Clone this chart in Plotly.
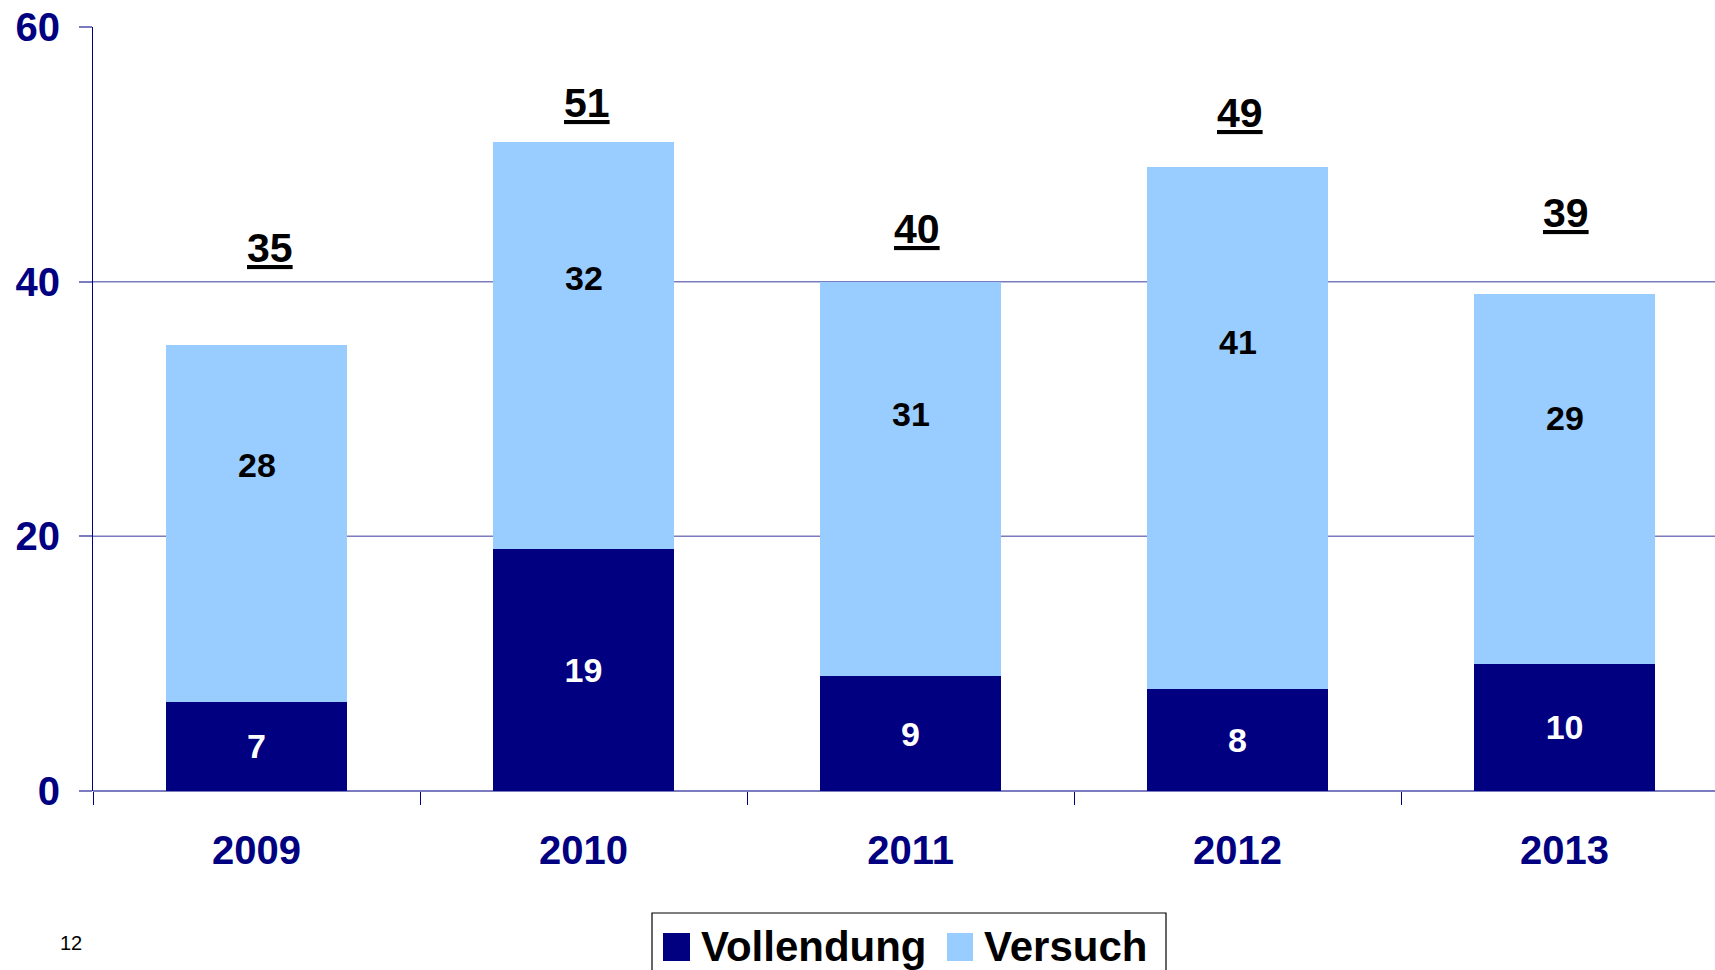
import plotly.graph_objects as go

years = ["2009", "2010", "2011", "2012", "2013"]
vollendung = [7, 19, 9, 8, 10]
versuch = [28, 32, 31, 41, 29]
totals = [a + b for a, b in zip(vollendung, versuch)]
y_ticks = [0, 20, 40, 60]

# label placement styles (pixels / fractions)
total_yshift = [97, 39, 53, 54, 81]
total_xshift = [13, 3, 6, 2, 1]
versuch_label_frac = 0.665

NAVY = "#000080"
LIGHT = "#99CCFF"
GRID = "#7B7BC0"
FONT = "Liberation Sans, Arial, sans-serif"

W, H = 1715, 970
L, R, T, B = 93, 0, 27, 179
PW, PH = W - L - R, H - T - B


def px(xpix):
    return (xpix - L) / PW


def py(ypix):
    return (H - B - ypix) / PH


fig = go.Figure()
fig.add_trace(go.Bar(
    x=years, y=vollendung, name="Vollendung", marker_color=NAVY,
    marker_line_width=0,
    text=[str(v) for v in vollendung], texttemplate="%{text}",
    textposition="inside", insidetextanchor="middle", constraintext="none",
    textfont=dict(family=FONT, size=34, color="white", weight="bold"),
    showlegend=False, hoverinfo="skip",
))
fig.add_trace(go.Bar(
    x=years, y=versuch, name="Versuch", marker_color=LIGHT,
    marker_line_width=0, showlegend=False, hoverinfo="skip",
))

annotations = []
for i, yr in enumerate(years):
    annotations.append(dict(
        x=i, y=vollendung[i] + versuch[i] * versuch_label_frac,
        text=str(versuch[i]), showarrow=False, xref="x", yref="y",
        font=dict(family=FONT, size=34, color="black", weight="bold"),
    ))
    annotations.append(dict(
        x=i, y=totals[i], yshift=total_yshift[i], xshift=total_xshift[i],
        text=str(totals[i]), showarrow=False, xref="x", yref="y",
        font=dict(family=FONT, size=41, color="black", weight="bold",
                  lineposition="under"),
    ))

# page number
annotations.append(dict(x=px(71), y=py(943), xref="paper", yref="paper",
                        xanchor="center", yanchor="middle",
                        text="12", showarrow=False,
                        font=dict(family=FONT, size=20, color="black")))
# custom legend text
annotations.append(dict(x=px(699), y=py(946), xref="paper", yref="paper",
                        xanchor="left", yanchor="middle", text="Vollendung",
                        showarrow=False,
                        font=dict(family=FONT, size=42, color="black", weight="bold")))
annotations.append(dict(x=px(982), y=py(946), xref="paper", yref="paper",
                        xanchor="left", yanchor="middle", text="Versuch",
                        showarrow=False,
                        font=dict(family=FONT, size=42, color="black", weight="bold")))

shapes = []
for gv in y_ticks[1:-1]:
    shapes.append(dict(type="line", xref="paper", yref="y", x0=0, x1=1,
                       y0=gv, y1=gv, line=dict(color=GRID, width=1.5),
                       layer="below"))
# legend box and swatches
shapes.append(dict(type="rect", xref="paper", yref="paper",
                   x0=px(652), x1=px(1166), y0=py(913), y1=py(990),
                   line=dict(color="black", width=1.2), fillcolor="white",
                   layer="below"))
shapes.append(dict(type="rect", xref="paper", yref="paper",
                   x0=px(663), x1=px(690), y0=py(933), y1=py(961),
                   line=dict(width=0), fillcolor=NAVY))
shapes.append(dict(type="rect", xref="paper", yref="paper",
                   x0=px(947), x1=px(973), y0=py(933), y1=py(961),
                   line=dict(width=0), fillcolor=LIGHT))

fig.update_layout(
    width=W, height=H,
    margin=dict(l=L, r=R, t=T, b=B, pad=0),
    paper_bgcolor="white", plot_bgcolor="white",
    barmode="stack", bargap=0.447,
    showlegend=False,
    annotations=annotations, shapes=shapes,
    xaxis=dict(
        type="category", range=[-0.5, 4.46],
        tickson="boundaries", ticks="outside", ticklen=13, tickcolor=NAVY,
        tickwidth=1, showgrid=False, showline=False, zeroline=False,
        tickfont=dict(family=FONT, size=40, color=NAVY, weight="bold"),
        ticklabelstandoff=32,
    ),
    yaxis=dict(
        range=[0, 60], tickvals=y_ticks, ticks="outside", ticklen=13,
        tickcolor=GRID, tickwidth=1.5, showgrid=False,
        showline=True, linecolor=NAVY, linewidth=1,
        zeroline=True, zerolinecolor=GRID, zerolinewidth=1.5,
        tickfont=dict(family=FONT, size=40, color=NAVY, weight="bold"),
        ticklabelstandoff=11,
    ),
)

fig.write_html(
    "out.html",
    config={"displayModeBar": False},
    post_script="document.body.style.margin='0';document.body.style.overflow='hidden';",
)
